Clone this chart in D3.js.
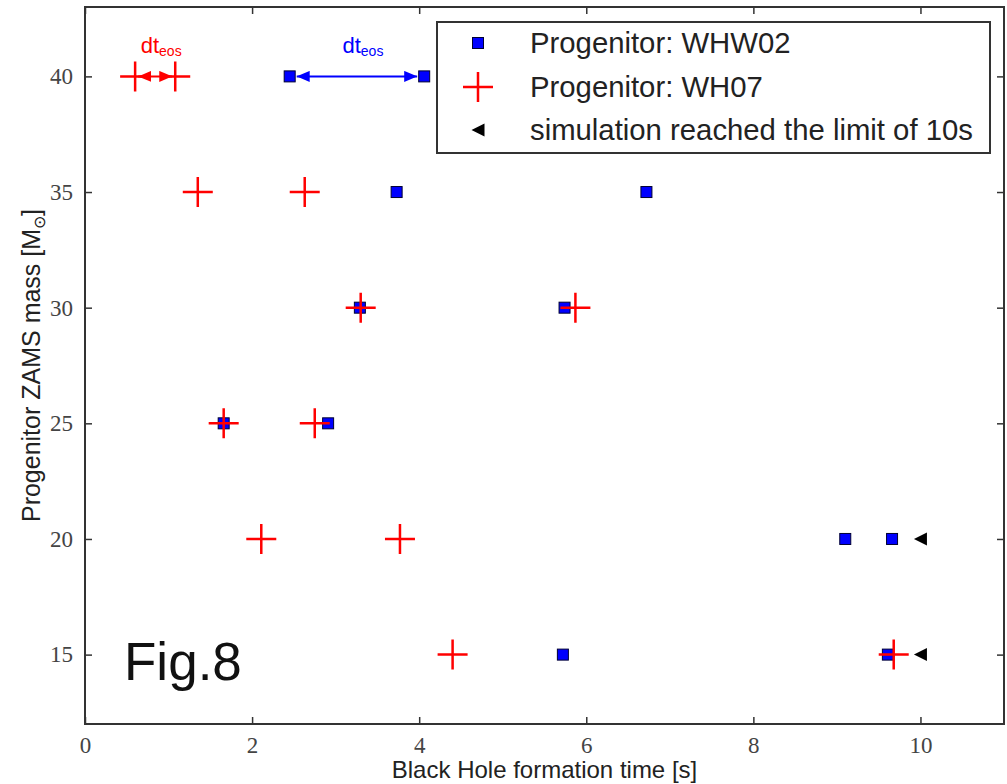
<!DOCTYPE html>
<html>
<head>
<meta charset="utf-8">
<script src="https://cdn.jsdelivr.net/npm/d3@7"></script>
<style>
  html, body { margin: 0; padding: 0; background: #fff; }
  svg { display: block; }
</style>
</head>
<body>
<script>
// Progenitor ZAMS masses (rows) and black hole formation times [s]
const massWHW02 = [40, 40, 35, 35, 30, 30, 25, 25, 20, 20, 15, 15];
const timeWHW02 = [2.45, 4.06, 3.73, 6.72, 3.29, 5.74, 1.66, 2.91, 9.10, 9.66, 5.72, 9.61];

const massWH07 = [40, 40, 35, 35, 30, 30, 25, 25, 20, 20, 15, 15];
const timeWH07 = [0.60, 1.08, 1.35, 2.63, 3.30, 5.87, 1.66, 2.75, 2.11, 3.77, 4.40, 9.68];

// runs stopped at the 10 s simulation limit
const massLimit = [20, 15];
const timeLimit = [10, 10];

const xTicks = [0, 2, 4, 6, 8, 10];
const yTicks = [15, 20, 25, 30, 35, 40];

const legendLabels = ["Progenitor: WHW02", "Progenitor: WH07", "simulation reached the limit of 10s"];

const W = 1007, H = 784;
const x = d3.scaleLinear().domain([0, 11]).range([85, 1004]);
const y = d3.scaleLinear().domain([12, 43]).range([724, 7]);

const svg = d3.select("body").append("svg").attr("width", W).attr("height", H);

const defs = svg.append("defs");
function arrowHead(id, color) {
  defs.append("marker")
    .attr("id", id)
    .attr("viewBox", "0 0 13 11")
    .attr("refX", 13).attr("refY", 5.5)
    .attr("markerWidth", 13).attr("markerHeight", 11)
    .attr("markerUnits", "userSpaceOnUse")
    .attr("orient", "auto-start-reverse")
    .append("path").attr("d", "M0,0 L13,5.5 L0,11 Z").attr("fill", color);
}
arrowHead("headRed", "#ff0000");
arrowHead("headBlue", "#0000ff");

const sansFont = "'Liberation Sans', Arial, Helvetica, sans-serif";
const serifFont = "'Liberation Serif', 'Times New Roman', serif";

// axes with inward ticks on all four sides
const axisColor = "#333";
const gx = svg.append("g").attr("transform", `translate(0,${y.range()[0]})`)
  .call(d3.axisBottom(x).tickValues(xTicks).tickSize(-7).tickPadding(12).tickFormat(d3.format("d")));
const gxTop = svg.append("g").attr("transform", `translate(0,${y.range()[1]})`)
  .call(d3.axisTop(x).tickValues(xTicks).tickSize(-7).tickFormat(""));
const gy = svg.append("g").attr("transform", `translate(${x.range()[0]},0)`)
  .call(d3.axisLeft(y).tickValues(yTicks).tickSize(-7).tickPadding(12).tickFormat(d3.format("d")));
const gyRight = svg.append("g").attr("transform", `translate(${x.range()[1]},0)`)
  .call(d3.axisRight(y).tickValues(yTicks).tickSize(-7).tickFormat(""));

[gx, gxTop, gy, gyRight].forEach(g => {
  g.select(".domain").remove();
  g.selectAll(".tick line").attr("stroke", axisColor).attr("stroke-width", 1.5);
  g.selectAll(".tick text")
    .attr("fill", "#444")
    .style("font-family", serifFont)
    .style("font-size", "23px");
});
gx.selectAll(".tick text").attr("dy", "0.75em");

// plot frame
svg.append("rect")
  .attr("x", x.range()[0]).attr("y", y.range()[1])
  .attr("width", x.range()[1] - x.range()[0])
  .attr("height", y.range()[0] - y.range()[1])
  .attr("fill", "none").attr("stroke", axisColor).attr("stroke-width", 2);

// axis titles
svg.append("text")
  .attr("x", (x.range()[0] + x.range()[1]) / 2).attr("y", 778)
  .attr("text-anchor", "middle")
  .style("font-family", sansFont).style("font-size", "24px").attr("fill", "#222")
  .text("Black Hole formation time [s]");

const yTitle = svg.append("text")
  .attr("transform", `translate(40,${(y.range()[0] + y.range()[1]) / 2}) rotate(-90)`)
  .attr("text-anchor", "middle")
  .style("font-family", sansFont).style("font-size", "25px").attr("fill", "#222");
yTitle.append("tspan").text("Progenitor ZAMS mass [M");
yTitle.append("tspan").attr("dy", 5).style("font-size", "16px").text("\u2299");
yTitle.append("tspan").attr("dy", -5).text("]");

// dt_eos annotations (double arrows between the two 40 Msun runs)
function dtArrow(t0, t1, shrink, color, head) {
  svg.append("line")
    .attr("x1", x(t0) + shrink).attr("x2", x(t1) - shrink)
    .attr("y1", y(40)).attr("y2", y(40))
    .attr("stroke", color).attr("stroke-width", 2)
    .attr("marker-start", `url(#${head})`)
    .attr("marker-end", `url(#${head})`);
  const lbl = svg.append("text")
    .attr("x", (x(t0) + x(t1)) / 2 + 6).attr("y", 53)
    .attr("text-anchor", "middle")
    .style("font-family", sansFont).attr("fill", color);
  lbl.append("tspan").style("font-size", "22px").text("dt");
  lbl.append("tspan").attr("dy", 3).style("font-size", "14px").text("eos");
}
dtArrow(timeWH07[0], timeWH07[1], 3, "#ff0000", "headRed");
dtArrow(timeWHW02[0], timeWHW02[1], 7, "#0000ff", "headBlue");

// "Fig.8" tag
svg.append("text")
  .attr("x", 124).attr("y", 680)
  .style("font-family", sansFont).style("font-size", "53px").attr("fill", "#111")
  .text("Fig.8");

// marker shapes
const sq = 11, plusHalf = 15, tri = 13;
function drawSquare(g, cx, cy) {
  g.append("rect").attr("x", cx - sq / 2).attr("y", cy - sq / 2)
    .attr("width", sq).attr("height", sq)
    .attr("fill", "#0000ff").attr("stroke", "#000033").attr("stroke-width", 1);
}
function drawPlus(g, cx, cy) {
  g.append("path")
    .attr("d", `M${cx - plusHalf},${cy}H${cx + plusHalf}M${cx},${cy - plusHalf}V${cy + plusHalf}`)
    .attr("stroke", "#ff0000").attr("stroke-width", 2.5).attr("fill", "none");
}
function drawTri(g, cx, cy) {
  g.append("path")
    .attr("d", `M${cx - tri / 2},${cy}L${cx + tri / 2},${cy - tri / 2}L${cx + tri / 2},${cy + tri / 2}Z`)
    .attr("fill", "#000");
}

const marks = svg.append("g");
timeWHW02.forEach((t, i) => drawSquare(marks, x(t), y(massWHW02[i])));
timeWH07.forEach((t, i) => drawPlus(marks, x(t), y(massWH07[i])));
timeLimit.forEach((t, i) => drawTri(marks, x(t), y(massLimit[i])));

// legend
const legend = svg.append("g");
legend.append("rect")
  .attr("x", 437).attr("y", 22).attr("width", 553).attr("height", 131)
  .attr("fill", "#fff").attr("stroke", "#333").attr("stroke-width", 2);
const rowY = [43, 87, 130];
drawSquare(legend, 478, rowY[0]);
drawPlus(legend, 478, rowY[1]);
drawTri(legend, 478, rowY[2]);
legendLabels.forEach((s, i) => {
  legend.append("text")
    .attr("x", 530).attr("y", rowY[i] + 10)
    .style("font-family", sansFont).style("font-size", "29.3px").attr("fill", "#222")
    .text(s);
});
</script>
</body>
</html>
